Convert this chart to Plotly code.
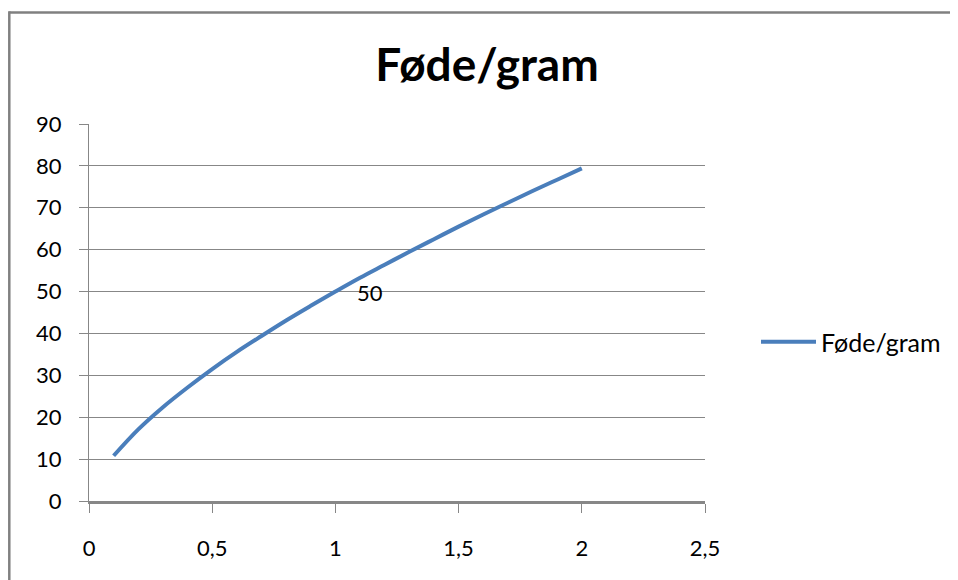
import plotly.graph_objects as go

# Data
x_vals = [0.1, 0.2, 0.3, 0.4, 0.5, 0.6, 0.7, 0.8, 0.9, 1.0,
          1.1, 1.2, 1.3, 1.4, 1.5, 1.6, 1.7, 1.8, 1.9, 2.0]
y_vals = [10.8, 17.1, 22.4, 27.1, 31.5, 35.6, 39.4, 43.1, 46.6, 50.0,
          53.3, 56.4, 59.5, 62.5, 65.5, 68.4, 71.2, 74.0, 76.7, 79.4]
series_name = "Føde/gram"
title_text = "Føde/gram"
label_x = [1.0]
label_y = [50.0]
label_text = ["50"]
x_ticks = [0, 0.5, 1, 1.5, 2, 2.5]
x_ticktext = ["0", "0,5", "1", "1,5", "2", "2,5"]
y_ticks = [0, 10, 20, 30, 40, 50, 60, 70, 80, 90]

# page body has an 8px margin; compensate so the chart lands where the reference is
OFF = 8
W, H = 958 - OFF, 580 - OFF
L, R, T, B = 89 - OFF, 705 - OFF, 124 - OFF, 501 - OFF
FONT = "Lato"
GRAY = "#878787"

fig = go.Figure()
fig.add_trace(go.Scatter(
    x=x_vals, y=y_vals, mode="lines", name=series_name,
    line=dict(color="#4a7ebb", width=4, shape="spline"),
))

for lx, ly, lt in zip(label_x, label_y, label_text):
    fig.add_annotation(x=lx, y=ly, text=lt, showarrow=False,
                       xanchor="left", yanchor="middle", xshift=20, yshift=-1,
                       font=dict(family=FONT, size=22, color="#000000"))

def px_x(p):
    p -= OFF
    return (p - L) / (R - L)

def px_y(p):
    p -= OFF
    return (B - p) / (B - T)

# outer chart frame (top and left edges)
fig.add_shape(type="line", xref="paper", yref="paper",
              x0=px_x(9.3), x1=px_x(970), y0=px_y(12.5), y1=px_y(12.5),
              line=dict(color="#808080", width=2.5))
fig.add_shape(type="line", xref="paper", yref="paper",
              x0=px_x(9.3), x1=px_x(9.3), y0=px_y(11.3), y1=px_y(600),
              line=dict(color="#808080", width=2.5))

fig.update_layout(
    width=W, height=H,
    margin=dict(l=L, r=W - R, t=T, b=H - B),
    paper_bgcolor="white", plot_bgcolor="white",
    title=dict(text="<b>" + title_text + "</b>", x=(487 - OFF) / W, xanchor="center",
               y=1 - (65 - OFF) / H, yanchor="middle", yref="container",
               font=dict(family=FONT, size=46, color="#000000")),
    showlegend=True,
    legend=dict(x=px_x(756), y=px_y(342), xanchor="left", yanchor="middle",
                font=dict(family=FONT, size=25, color="#000000"),
                bgcolor="rgba(0,0,0,0)", itemwidth=55),
    font=dict(family=FONT, color="#000000"),
)

fig.update_xaxes(
    range=[0, 2.5], tickvals=x_ticks, ticktext=x_ticktext,
    showgrid=False, zeroline=False,
    showline=True, linecolor=GRAY, linewidth=2.5,
    ticks="outside", ticklen=9, tickcolor=GRAY, tickwidth=1,
    tickfont=dict(family=FONT, size=22, color="#000000"),
    ticklabelstandoff=17,
)
fig.update_yaxes(
    range=[0, 90], tickvals=y_ticks,
    showgrid=True, gridcolor=GRAY, gridwidth=1.2, zeroline=False,
    showline=True, linecolor=GRAY, linewidth=1,
    ticks="outside", ticklen=9, tickcolor=GRAY, tickwidth=1,
    tickfont=dict(family=FONT, size=22, color="#000000"),
    ticklabelstandoff=13,
)

fig.write_html("out.html")
